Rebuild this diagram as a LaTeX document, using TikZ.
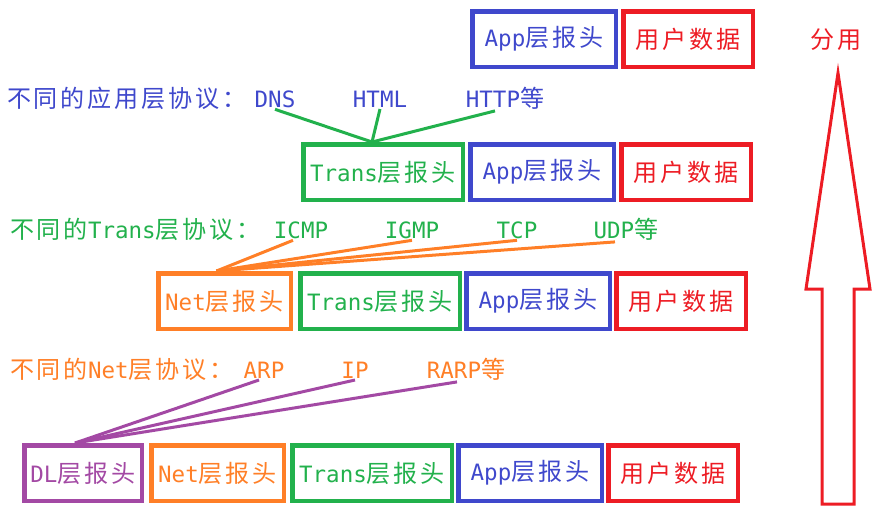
\documentclass[tikz,border=0pt]{standalone}
\usepackage{fontspec}
\setmainfont{DejaVu Sans Mono}
\newfontfamily\cjk[Scale=1.07,LetterSpace=12]{Noto Sans CJK SC}
\usetikzlibrary{positioning}
\definecolor{PaintBlue}{HTML}{3F48CC}
\definecolor{PaintRed}{HTML}{ED1C24}
\definecolor{PaintGreen}{HTML}{22B14C}
\definecolor{PaintOrange}{HTML}{FF7F27}
\definecolor{PaintPurple}{HTML}{A349A4}
\newcommand\zh[1]{{\cjk #1}}

\begin{document}
\begin{tikzpicture}[x=1pt,y=-1pt,
  every node/.style={font=\fontsize{22.5}{24}\selectfont,inner sep=0pt},
  hdr/.style={draw=#1,text=#1,line width=4.5pt,minimum height=55.5pt},
  appbox/.style={hdr=PaintBlue,minimum width=143.5pt},
  databox/.style={hdr=PaintRed,minimum width=129.5pt},
  transbox/.style={hdr=PaintGreen,minimum width=159.5pt},
  netbox/.style={hdr=PaintOrange,minimum width=132.5pt},
  dlbox/.style={hdr=PaintPurple,minimum width=117.5pt},
  proto/.style={text=#1,anchor=base,outer sep=2pt},
  link/.style={draw=#1,line width=3pt},
  node distance=3pt]
  \useasboundingbox (0,0) rectangle (877,509);

  % packet rows, top to bottom
  \node[appbox,anchor=west] (app1) at (470,39) {App\zh{层报头}};
  \node[databox,right=of app1] (data1) {\zh{用户数据}};

  \node[transbox,anchor=west] (trans2) at (301,172) {Trans\zh{层报头}};
  \node[appbox,right=of trans2] (app2) {App\zh{层报头}};
  \node[databox,right=of app2] (data2) {\zh{用户数据}};

  \node[netbox,anchor=west] (net3) at (156,301) {Net\zh{层报头}};
  \node[transbox,right=5pt of net3] (trans3) {Trans\zh{层报头}};
  \node[appbox,right=2pt of trans3] (app3) {App\zh{层报头}};
  \node[databox,right=2pt of app3] (data3) {\zh{用户数据}};

  \node[dlbox,anchor=west] (dl4) at (22,473) {DL\zh{层报头}};
  \node[netbox,right=5pt of dl4] (net4) {Net\zh{层报头}};
  \node[transbox,right=4pt of net4] (trans4) {Trans\zh{层报头}};
  \node[appbox,right=2pt of trans4] (app4) {App\zh{层报头}};
  \node[databox,right=2pt of app4] (data4) {\zh{用户数据}};

  % protocol lists
  \node[proto=PaintBlue,anchor=base west] (apptitle) at (5,107) {\zh{不同的应用层协议：}};
  \node[proto=PaintBlue] (dns) at (275,107) {DNS};
  \node[proto=PaintBlue] (html) at (380,107) {HTML};
  \node[proto=PaintBlue] (http) at (505,107) {HTTP\zh{等}};

  \node[proto=PaintGreen,anchor=base west] (transtitle) at (8,238) {\zh{不同的}Trans\zh{层协议：}};
  \node[proto=PaintGreen] (icmp) at (301,238) {ICMP};
  \node[proto=PaintGreen] (igmp) at (412,238) {IGMP};
  \node[proto=PaintGreen] (tcp) at (517,238) {TCP};
  \node[proto=PaintGreen] (udp) at (626,238) {UDP\zh{等}};

  \node[proto=PaintOrange,anchor=base west] (nettitle) at (8,378) {\zh{不同的}Net\zh{层协议：}};
  \node[proto=PaintOrange] (arp) at (264,378) {ARP};
  \node[proto=PaintOrange] (ip) at (355,378) {IP};
  \node[proto=PaintOrange] (rarp) at (466,378) {RARP\zh{等}};

  \foreach \p/\s in {dns/0,html/0,http/-10}
    \draw[link=PaintGreen] ([xshift=\s pt]\p.south) -- ([xshift=-11pt]trans2.north);
  \foreach \p/\s in {icmp/-8,igmp/0,tcp/0,udp/-11}
    \draw[link=PaintOrange] ([xshift=\s pt]\p.south) -- ([xshift=-8pt]net3.north);
  \foreach \p/\s in {arp/-5,ip/0,rarp/-9}
    \draw[link=PaintPurple] ([xshift=\s pt]\p.south) -- ([xshift=-8pt]dl4.north);

  % demultiplexing arrow
  \node[text=PaintRed] (fenyong) at (836,40) {\zh{分用}};
  \draw[PaintRed,line width=3pt] (838,73) -- (870,289) -- (854,289) -- (854,504)
    -- (822,504) -- (822,289) -- (806,289) -- cycle;
\end{tikzpicture}
\end{document}
